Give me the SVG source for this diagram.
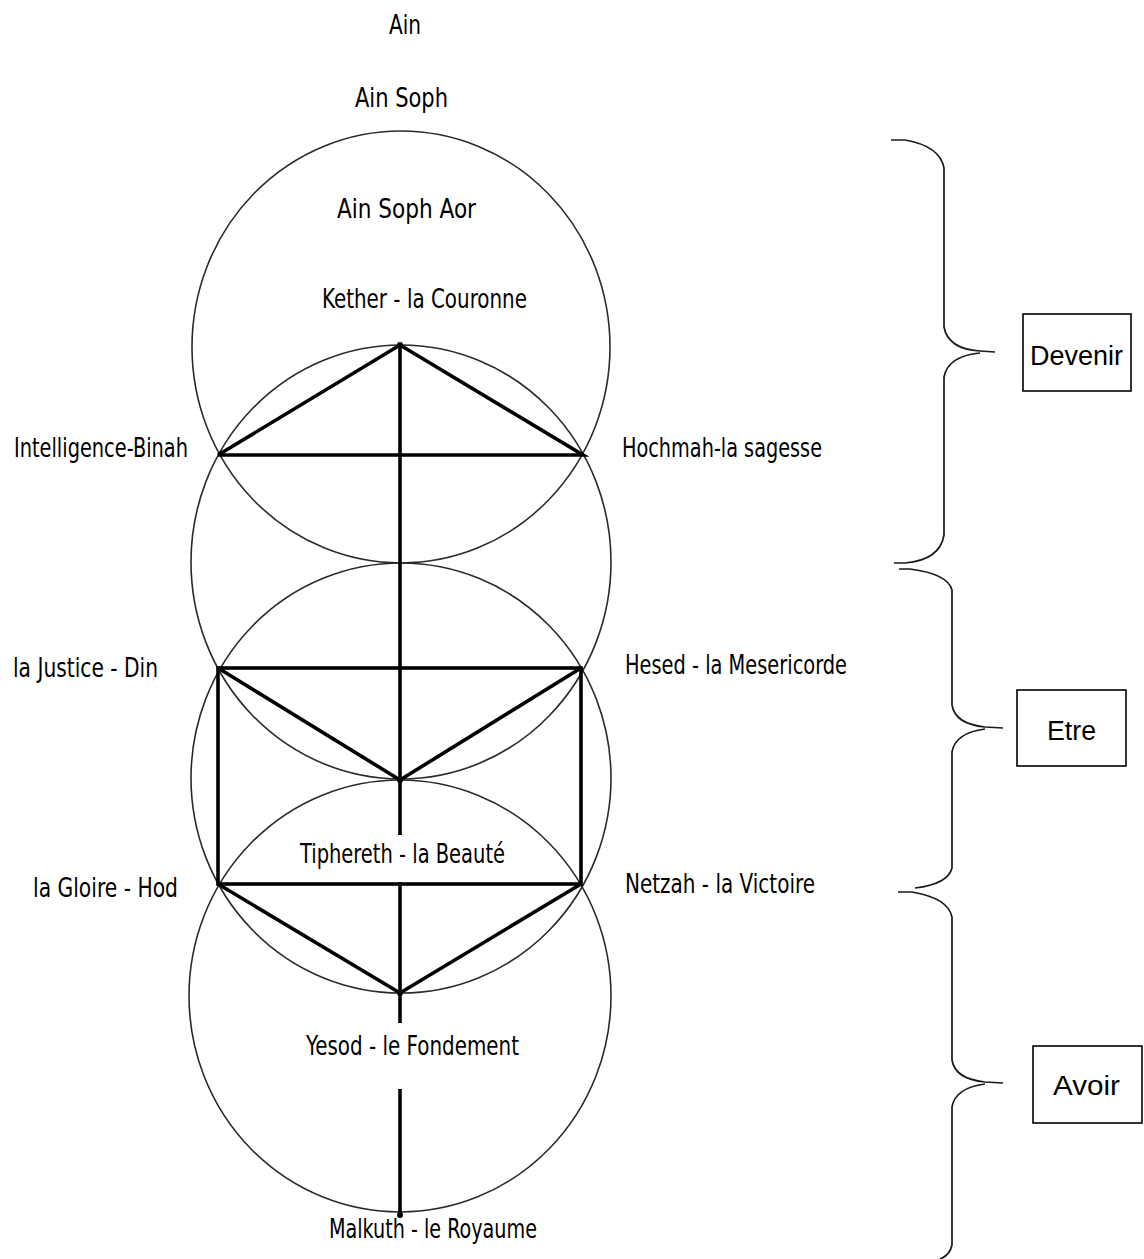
<svg xmlns="http://www.w3.org/2000/svg" width="1144" height="1259" viewBox="0 0 1144 1259">
<style>
.bg{fill:#ffffff}
.circ{fill:none;stroke:#2a2a2a;stroke-width:1.6}
.path{fill:none;stroke:#000;stroke-width:3.6;stroke-linecap:butt;stroke-linejoin:miter}
.brace{fill:none;stroke:#1a1a1a;stroke-width:1.7}
.box{fill:#fff;stroke:#000;stroke-width:1.6}
.lbl{font-family:"Liberation Sans Narrow","DejaVu Sans Condensed","Liberation Sans",sans-serif;font-stretch:condensed;font-size:27px;fill:#000}
.blbl{font-family:"Liberation Sans",Arial,sans-serif;font-size:27px;fill:#000}
</style>
<rect class="bg" x="0" y="0" width="1144" height="1259"/>
<g id="circles">
<ellipse class="circ" cx="401" cy="347" rx="209" ry="216"/>
<ellipse class="circ" cx="401" cy="562" rx="210" ry="217"/>
<ellipse class="circ" cx="401" cy="778" rx="210" ry="215"/>
<ellipse class="circ" cx="400" cy="996" rx="211" ry="216"/>
</g>
<g id="connectors">
<line class="path" x1="400" y1="345" x2="400" y2="835"/>
<line class="path" x1="400" y1="882" x2="400" y2="1023"/>
<line class="path" x1="400" y1="1089" x2="400" y2="1216"/>
<polyline class="path" points="218,455 400,345 583,455 218,455"/>
<rect class="path" x="218" y="668" width="363" height="216"/>
<polyline class="path" points="218,668 400,780 581,668"/>
<polyline class="path" points="218,884 400,993 581,884"/>
<circle cx="400" cy="345" r="3" fill="#000"/>
<circle cx="400" cy="780" r="3" fill="#000"/>
<circle cx="400" cy="993" r="3" fill="#000"/>
<circle cx="400" cy="1215" r="3" fill="#000"/>
</g>
<g id="n-ain"><text class="lbl" x="389" y="34" textLength="32" lengthAdjust="spacingAndGlyphs">Ain</text></g>
<g id="n-ainsoph"><text class="lbl" x="355" y="107" textLength="93" lengthAdjust="spacingAndGlyphs">Ain Soph</text></g>
<g id="n-ainsophaor"><text class="lbl" x="337" y="218" textLength="139" lengthAdjust="spacingAndGlyphs">Ain Soph Aor</text></g>
<g id="n-kether"><text class="lbl" x="322" y="308" textLength="205" lengthAdjust="spacingAndGlyphs">Kether - la Couronne</text></g>
<g id="n-binah"><text class="lbl" x="14" y="457" textLength="174" lengthAdjust="spacingAndGlyphs">Intelligence-Binah</text></g>
<g id="n-hochmah"><text class="lbl" x="622" y="457" textLength="200" lengthAdjust="spacingAndGlyphs">Hochmah-la sagesse</text></g>
<g id="n-din"><text class="lbl" x="13" y="677" textLength="145" lengthAdjust="spacingAndGlyphs">la Justice - Din</text></g>
<g id="n-hesed"><text class="lbl" x="625" y="674" textLength="222" lengthAdjust="spacingAndGlyphs">Hesed - la Mesericorde</text></g>
<g id="n-tiphereth"><text class="lbl" x="300" y="863" textLength="205" lengthAdjust="spacingAndGlyphs">Tiphereth - la Beauté</text></g>
<g id="n-hod"><text class="lbl" x="33" y="897" textLength="145" lengthAdjust="spacingAndGlyphs">la Gloire - Hod</text></g>
<g id="n-netzah"><text class="lbl" x="625" y="893" textLength="190" lengthAdjust="spacingAndGlyphs">Netzah - la Victoire</text></g>
<g id="n-yesod"><text class="lbl" x="306" y="1055" textLength="213" lengthAdjust="spacingAndGlyphs">Yesod - le Fondement</text></g>
<g id="n-malkuth"><text class="lbl" x="329" y="1238" textLength="208" lengthAdjust="spacingAndGlyphs">Malkuth - le Royaume</text></g>
<g id="brace-devenir">
<path class="brace" d="M891,140 L905,140 Q940,146 944,168 L944,327 Q948,349 980,351 L995,352 M980,353 Q948,356 944,377 L944,535 Q940,560 905,563 L894,563"/>
</g>
<g id="brace-etre">
<path class="brace" d="M899,569 L910,569 Q948,574 952,590 L952,705 Q955,724 985,727 L1003,728 M985,729 Q955,733 952,752 L952,868 Q948,884 915,888"/>
</g>
<g id="brace-avoir">
<path class="brace" d="M898,892 L912,892 Q948,898 952,917 L952,1060 Q955,1079 985,1082 L1003,1083 M985,1084 Q955,1088 952,1107 L952,1245 Q950,1255 940,1259"/>
</g>
<g id="box-devenir">
<rect class="box" x="1023" y="314" width="108" height="77"/>
<text class="blbl" x="1030" y="365" textLength="93" lengthAdjust="spacingAndGlyphs">Devenir</text>
</g>
<g id="box-etre">
<rect class="box" x="1017" y="690" width="109" height="76"/>
<text class="blbl" x="1047" y="740" textLength="49" lengthAdjust="spacingAndGlyphs">Etre</text>
</g>
<g id="box-avoir">
<rect class="box" x="1033" y="1046" width="109" height="77"/>
<text class="blbl" x="1053" y="1095" textLength="67" lengthAdjust="spacingAndGlyphs">Avoir</text>
</g>
</svg>
